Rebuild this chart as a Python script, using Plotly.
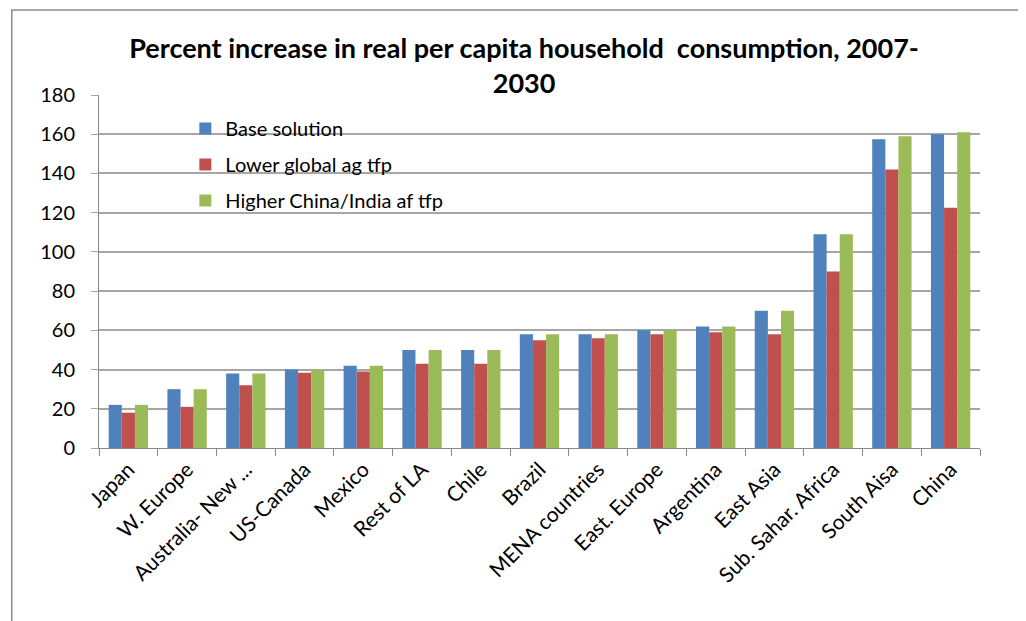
import plotly.graph_objects as go

categories = ["Japan", "W. Europe", "Australia- New ...", "US-Canada", "Mexico", "Rest of LA",
              "Chile", "Brazil", "MENA countries", "East. Europe", "Argentina", "East Asia",
              "Sub. Sahar. Africa", "South Aisa", "China"]
base_solution = [22, 30, 38, 40, 42, 50, 50, 58, 58, 60, 62, 70, 109, 157.5, 160]
lower_global = [18, 21, 32, 38.4, 39, 43, 43, 55, 56, 58, 59, 58, 90, 142, 122.5]
higher_china_india = [22, 30, 38, 40, 42, 50, 50, 58, 58, 60, 62, 70, 109, 159, 161]
series_names = ["Base solution", "Lower global ag tfp", "Higher China/India af tfp"]
colors = ["#4F81BD", "#C0504D", "#9BBB59"]
y_ticks = [0, 20, 40, 60, 80, 100, 120, 140, 160, 180]

FONT = "Lato"

fig = go.Figure()
for i, (name, vals) in enumerate(zip(series_names, [base_solution, lower_global, higher_china_india])):
    fig.add_trace(go.Bar(
        x=categories, y=vals, name=name, legendgroup=str(i),
        marker=dict(color=colors[i], line=dict(width=0)),
    ))

# page body has an 8px offset; margins compensate so plot lands at x 99..980, y 95..448
fig.update_layout(
    width=1026, height=621,
    paper_bgcolor="white", plot_bgcolor="white",
    margin=dict(l=91, r=54, t=87, b=181, autoexpand=False),
    barmode="group", bargap=0.33, bargroupgap=0,
    font=dict(family=FONT, color="black", size=20),
    title=dict(
        text="<b>Percent increase in real per capita household  consumption, 2007-<br>2030</b>",
        x=0.503, xanchor="center", y=0.92, yanchor="top",
        font=dict(family=FONT, size=27, color="black"),
    ),
    legend=dict(
        x=0.098, y=0.96, xanchor="left", yanchor="top",
        bgcolor="rgba(0,0,0,0)", font=dict(family=FONT, size=20),
        tracegroupgap=7, itemwidth=30,
    ),
    showlegend=True,
    xaxis=dict(
        type="category", tickangle=-45, showgrid=False,
        showline=True, linecolor="#888888", linewidth=1,
        ticks="outside", tickson="boundaries", ticklen=7, tickcolor="#888888",
        tickfont=dict(family=FONT, size=21),
    ),
    yaxis=dict(
        range=[0, 180], tickvals=y_ticks, showgrid=True, gridcolor="#A6A6A6", gridwidth=1.5,
        showline=True, linecolor="#888888", linewidth=1,
        ticks="outside", ticklen=7, tickcolor="#A6A6A6", zeroline=False,
        tickfont=dict(family=FONT, size=20), ticklabelstandoff=12,
    ),
)

fig.add_shape(type="rect", xref="paper", yref="paper",
              x0=-0.099, x1=1.2, y0=-0.8, y1=1.241,
              line=dict(color="#8C8C8C", width=1.5), fillcolor="rgba(0,0,0,0)", layer="below")

fig.write_html("out.html")
